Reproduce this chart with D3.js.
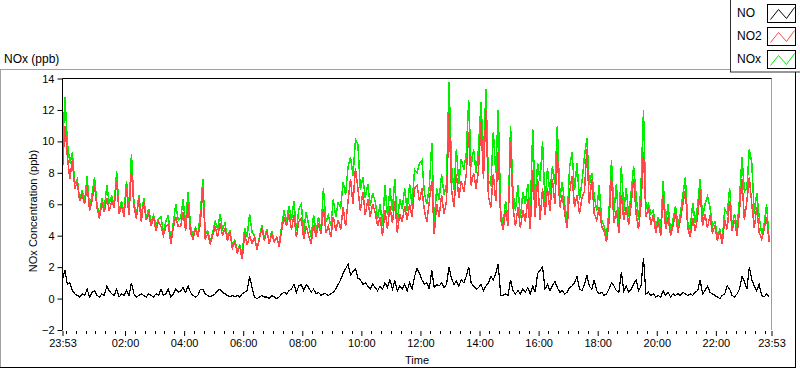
<!DOCTYPE html>
<html><head><meta charset="utf-8">
<script src="https://cdn.jsdelivr.net/npm/d3@7"></script>
<style>
html,body{margin:0;padding:0;background:#fff;}
svg{display:block;font-family:"Liberation Sans",Arial,sans-serif;}
</style></head>
<body>
<svg id="chart" width="800" height="369"></svg>
<script>
// ---- data (5-minute samples starting 23:53) ----
const sampleStepMin = 5;
const NO2 = [8.2,11.0,9.0,7.6,8.8,7.0,7.4,6.2,6.6,6.0,7.2,5.6,6.2,7.2,5.8,5.1,6.1,5.5,6.4,5.6,6.2,5.8,7.5,5.4,5.9,5.2,7.0,5.3,8.2,5.9,5.1,6.4,4.9,6.2,5.0,5.4,4.6,5.2,4.3,4.9,4.6,4.0,4.6,4.7,3.5,4.5,5.2,4.6,
4.6,5.5,4.3,6.0,4.2,3.8,4.4,3.9,4.8,7.0,3.8,4.1,3.5,4.0,4.6,3.9,4.8,4.0,4.5,3.7,4.2,3.2,3.6,2.9,3.3,2.5,4.1,3.4,4.0,3.5,3.9,3.1,3.8,4.5,3.7,4.3,3.5,4.1,3.6,3.9,3.3,4.3,5.2,4.6,5.4,4.4,5.3,3.9,4.9,
5.1,3.8,4.6,4.0,3.5,4.7,3.9,4.8,4.1,5.7,4.2,4.6,3.9,5.2,4.3,5.0,4.4,5.8,4.6,6.2,7.6,6.0,8.3,7.0,5.6,6.8,5.3,6.3,5.2,6.0,5.5,4.6,5.2,4.0,5.6,4.4,5.9,4.8,6.2,4.2,5.4,4.9,5.9,5.0,6.0,5.2,7.0,7.2,6.2,
7.0,5.6,4.9,6.2,7.5,4.1,6.0,5.2,6.6,5.4,6.2,11.8,7.0,5.8,7.9,6.4,7.5,6.8,7.9,10.6,7.2,8.0,7.0,8.2,11.3,7.6,12.0,6.5,5.8,7.9,6.2,9.3,5.0,4.4,5.6,4.6,10.0,5.8,4.6,5.8,4.5,5.6,4.9,6.3,4.4,8.2,5.2,7.6,5.0,
7.0,5.3,7.0,5.6,7.6,6.0,9.3,5.8,6.6,5.4,4.5,6.8,7.8,5.8,6.6,5.4,6.4,6.8,9.5,6.0,7.6,5.4,5.0,5.8,4.6,4.3,3.6,4.9,7.8,4.8,5.6,4.2,6.6,5.0,5.8,4.7,6.0,7.6,5.4,4.4,6.0,9.3,5.2,5.8,4.7,5.3,4.2,4.9,4.0,
6.6,4.4,5.2,4.0,4.6,5.5,4.2,5.0,6.0,6.9,4.5,3.9,5.1,4.3,5.2,6.9,4.6,5.4,4.5,5.3,4.2,4.6,3.7,4.3,3.5,5.0,4.4,6.2,4.3,5.0,4.0,5.6,7.6,5.0,6.2,7.7,6.0,4.5,5.8,4.2,3.8,4.4,5.2,3.6];
const NO = [1.2,1.8,0.9,1.0,0.5,0.3,0.2,0.1,0.3,0.2,0.6,0.1,0.4,0.5,0.2,0.1,0.3,0.2,0.8,0.5,0.3,0.2,0.6,0.1,0.3,0.2,0.5,0.2,1.0,0.3,0.1,0.2,0.3,0.2,0.1,0.3,0.2,0.1,0.3,0.2,0.6,0.2,0.3,0.6,0.1,0.3,0.6,0.4,
0.5,0.7,0.4,0.8,0.4,0.2,0.1,0.2,0.6,0.6,0.3,0.2,0.1,0.2,0.3,0.5,0.6,0.4,0.3,0.2,0.1,0.2,0.1,0.2,0.1,0.3,0.4,0.5,1.4,0.7,0.1,0.0,0.1,0.2,0.1,0.1,0.0,0.2,0.1,0.0,0.1,0.3,0.4,0.3,0.5,0.6,0.9,0.4,0.8,
0.9,0.5,0.9,0.7,0.4,0.6,0.3,0.4,0.2,0.3,0.3,0.2,0.3,0.4,0.6,0.9,1.2,1.6,1.9,2.2,1.5,1.7,1.9,1.3,1.2,0.9,1.0,0.8,0.6,0.9,0.7,0.5,0.8,0.6,1.0,0.7,1.2,0.6,1.1,0.5,0.8,0.6,0.9,0.5,1.0,0.6,1.4,1.9,1.6,
1.2,0.9,1.0,0.6,1.8,0.7,0.9,0.8,1.0,0.7,0.9,2.0,1.3,0.9,1.1,0.8,1.2,1.0,1.4,2.0,1.0,0.8,0.6,0.7,0.9,0.5,0.8,1.0,1.4,1.2,1.6,2.2,0.2,0.2,0.3,0.2,1.2,0.5,0.3,0.5,0.3,0.6,0.4,0.7,0.3,0.8,0.4,1.6,1.8,
2.0,0.6,0.9,0.5,0.8,1.1,0.7,0.4,0.5,0.3,0.4,0.7,0.8,1.0,1.4,0.6,0.5,0.9,1.5,0.8,0.6,1.2,0.5,0.3,0.4,0.2,0.3,0.6,1.0,0.8,0.5,0.4,1.7,0.5,0.8,0.4,0.6,0.9,1.2,0.5,0.8,2.6,0.3,0.4,0.2,0.3,0.1,0.2,0.1,
0.5,0.2,0.4,0.1,0.3,0.2,0.3,0.2,0.4,0.3,0.2,0.3,0.2,0.4,0.5,1.2,0.3,0.5,0.8,0.4,0.3,0.2,0.1,0.0,0.2,0.3,0.8,0.6,0.2,0.1,0.3,0.6,1.4,1.1,0.6,2.0,1.2,0.8,0.5,0.9,0.2,0.1,0.3,0.1];
const NOx = [9.4,12.8,9.9,8.6,9.3,7.3,7.6,6.3,6.9,6.2,7.8,5.7,6.6,7.7,6.0,5.2,6.4,5.7,7.2,6.1,6.5,6.0,8.1,5.5,6.2,5.4,7.5,5.5,9.2,6.2,5.2,6.6,5.2,6.4,5.1,5.7,4.8,5.3,4.6,5.1,5.2,4.2,4.9,5.3,3.6,4.8,6.0,5.0,
5.1,6.3,4.7,6.8,4.6,4.0,4.5,4.1,5.4,7.6,4.1,4.3,3.6,4.2,4.9,4.4,5.4,4.4,4.8,3.9,4.3,3.4,3.7,3.1,3.4,2.8,4.5,3.9,5.4,4.2,4.0,3.1,3.9,4.7,3.8,4.4,3.5,4.3,3.7,3.9,3.4,4.6,5.6,4.9,5.9,5.0,6.2,4.3,5.7,
6.0,4.3,5.5,4.7,3.9,5.3,4.2,5.2,4.3,7.0,4.9,5.3,4.6,6.3,5.2,6.1,5.8,7.4,6.6,8.4,9.0,7.8,10.1,9.8,6.9,7.7,6.4,7.3,5.9,6.7,6.2,5.1,6.0,4.6,7.2,5.3,7.0,5.6,7.6,4.8,6.3,5.7,7.0,5.6,7.3,5.9,8.2,8.0,8.6,
8.8,6.7,6.0,7.1,9.9,4.9,7.0,6.3,7.9,6.6,7.3,13.8,8.5,6.9,9.5,7.3,8.9,8.2,9.2,12.6,8.4,9.5,8.0,9.6,12.5,8.9,13.3,7.5,7.2,10.6,8.0,12.0,5.6,4.7,6.2,5.0,11.0,6.7,5.6,7.2,5.1,6.8,6.0,7.3,5.2,10.8,6.2,8.6,7.5,
10.0,6.0,8.3,6.6,8.4,7.3,11.0,6.4,7.4,6.0,5.0,8.4,9.3,6.9,8.6,6.3,7.4,9.0,10.2,7.2,8.0,6.5,5.6,7.2,5.0,4.6,4.0,5.6,8.8,5.5,7.3,4.6,8.4,5.6,7.0,5.2,6.8,8.4,6.6,5.0,7.2,12.0,5.7,6.0,5.4,5.6,4.5,5.2,4.4,
7.5,4.7,6.0,4.2,5.0,5.9,4.6,5.4,6.6,7.7,4.8,4.4,6.1,4.8,5.9,7.6,5.2,6.0,6.5,5.8,4.6,4.9,4.0,4.4,3.7,5.7,5.4,7.0,4.6,5.4,4.5,6.3,9.0,6.8,7.0,9.5,8.6,5.4,6.7,5.2,4.1,4.7,6.0,3.8];

const yTicks = [-2,0,2,4,6,8,10,12,14];
const xTickLabels = ["23:53","02:00","04:00","06:00","08:00","10:00","12:00","14:00","16:00","18:00","20:00","22:00","23:53"];
const xTickMinutes = [0,127,247,367,487,607,727,847,967,1087,1207,1327,1440];
const xMinorStart = 7, xMinorStep = 20; // minor ticks every 20 min from 00:00
const seriesNames = ["NO","NO2","NOx"];
const seriesColors = {NO:"#000000", NO2:"#ff4646", NOx:"#00ee00"};

// ---- layout ----
const svg = d3.select("#chart");
const L = 62.5, R = 771.5, T = 78.5, B = 330;
const x = d3.scaleLinear().domain([0,1440]).range([L, R]);
const y = d3.scaleLinear().domain([-2,14]).range([B, T]);

// outer panel frame
svg.append("line").attr("x1",0).attr("x2",730).attr("y1",69.5).attr("y2",69.5).attr("stroke","#a0a0a0");
svg.append("line").attr("x1",0.5).attr("x2",0.5).attr("y1",69.5).attr("y2",368).attr("stroke","#a0a0a0");
svg.append("line").attr("x1",795.5).attr("x2",795.5).attr("y1",72).attr("y2",368).attr("stroke","#000");
svg.append("line").attr("x1",0).attr("x2",796).attr("y1",367.5).attr("y2",367.5).attr("stroke","#000");

// title
svg.append("text").attr("x",4).attr("y",63).attr("font-size",12).text("NOx (ppb)");

// clip
svg.append("defs").append("clipPath").attr("id","clip")
  .append("rect").attr("x",L).attr("y",T).attr("width",R-L).attr("height",B-T);

const idx = d3.range(NO.length);
const line = arr => d3.line().x(i => x(i*sampleStepMin)).y(i => y(arr[i]))(idx);

const g = svg.append("g").attr("clip-path","url(#clip)");
g.append("path").attr("d",line(NOx)).attr("fill","none").attr("stroke",seriesColors.NOx).attr("stroke-width",1.5).attr("shape-rendering","crispEdges");
g.append("path").attr("d",line(NO2)).attr("fill","none").attr("stroke",seriesColors.NO2).attr("stroke-width",1.5).attr("shape-rendering","crispEdges");
g.append("path").attr("d",line(NO)).attr("fill","none").attr("stroke",seriesColors.NO).attr("stroke-width",1.2).attr("shape-rendering","crispEdges");

// plot borders
svg.append("line").attr("x1",L).attr("x2",R+0.5).attr("y1",T).attr("y2",T).attr("stroke","#000");
svg.append("line").attr("x1",R).attr("x2",R).attr("y1",T).attr("y2",B).attr("stroke","#a0a0a0");

// y axis
const yAxis = d3.axisLeft(y).tickValues(yTicks).tickSize(5).tickPadding(3).tickFormat(d3.format("d"));
const yg = svg.append("g").attr("transform",`translate(${L},0)`).call(yAxis);
yg.select(".domain").attr("stroke","#000").attr("d",`M0,${T}V${B}`);
yg.selectAll("text").attr("font-size",11).attr("font-family","Liberation Sans, Arial, sans-serif").attr("fill","#000");

// x axis
const xAxis = d3.axisBottom(x).tickValues(xTickMinutes).tickSize(5).tickPadding(3)
  .tickFormat((d,i) => xTickLabels[i]);
const xg = svg.append("g").attr("transform",`translate(0,${B+1})`).call(xAxis);
xg.select(".domain").remove();
xg.selectAll("text").attr("font-size",11).attr("font-family","Liberation Sans, Arial, sans-serif").attr("fill","#000");
const minor = d3.range(xMinorStart, 1440, xMinorStep).filter(m => !xTickMinutes.some(t => Math.abs(t-m) < 3));
svg.append("g").selectAll("line").data(minor).join("line")
  .attr("x1",d=>Math.round(x(d))+0.5).attr("x2",d=>Math.round(x(d))+0.5)
  .attr("y1",B+1).attr("y2",B+4).attr("stroke","#000");

// axis labels
svg.append("text").attr("x",(L+R)/2).attr("y",364).attr("text-anchor","middle").attr("font-size",11).text("Time");
svg.append("text").attr("transform","translate(37,211) rotate(-90)").attr("text-anchor","middle").attr("font-size",11).text("NOx Concentration (ppb)");

// legend
const lg = svg.append("g");
lg.append("rect").attr("x",730.5).attr("y",-1).attr("width",80).attr("height",73).attr("fill","#fff").attr("stroke","#303030");
const zig = d3.line()([[3,15],[11,5],[19,14],[27,3]]);
seriesNames.forEach((name,k) => {
  const yy = 4 + k*23;
  lg.append("text").attr("x",737).attr("y",yy+13).attr("font-size",12).text(name);
  lg.append("rect").attr("x",767.5).attr("y",yy+0.5).attr("width",28).attr("height",18).attr("fill","#fff").attr("stroke","#000");
  lg.append("path").attr("transform",`translate(767.5,${yy+0.5})`).attr("d",zig).attr("fill","none").attr("stroke",seriesColors[name]);
});
</script>
</body></html>
